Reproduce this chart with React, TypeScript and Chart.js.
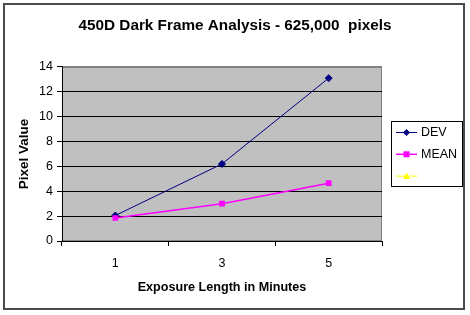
import React, { useEffect, useRef } from 'react';
import { Chart, registerables } from 'chart.js';

Chart.register(...registerables);

const chartTitle = '450D Dark Frame Analysis - 625,000  pixels';
const xTitle = 'Exposure Length in Minutes';
const yTitle = 'Pixel Value';
const categories = ['1', '3', '5'];
const devValues = [2.05, 6.2, 13.1];
const meanValues = [1.85, 3.0, 4.65];
const blankValues: number[] = [];
const seriesNames = ['DEV', 'MEAN', ''];
const seriesColors = ['#000080', '#FF00FF', '#FFFF00'];
const yMin = 0;
const yMax = 14;
const yStep = 2;

const FONT = '"Liberation Sans", Arial, sans-serif';

const framePlugin = {
  id: 'frame',
  beforeDraw(chart: any) {
    const ctx = chart.ctx;
    const { left, top, right, bottom } = chart.chartArea;
    ctx.save();
    ctx.fillStyle = '#ffffff';
    ctx.fillRect(0, 0, chart.width, chart.height);
    ctx.fillStyle = '#C0C0C0';
    ctx.fillRect(left, top, right - left, bottom - top);
    ctx.strokeStyle = '#808080';
    ctx.lineWidth = 1;
    ctx.strokeRect(left + 0.5, top + 0.5, right - left - 1, bottom - top - 1);
    ctx.strokeStyle = '#4a4a4a';
    ctx.lineWidth = 2;
    ctx.strokeRect(4, 4, 460, 305);
    ctx.restore();
  },
};

function drawMarker(ctx: CanvasRenderingContext2D, style: string, x: number, y: number, r: number) {
  ctx.beginPath();
  if (style === 'rectRot') {
    ctx.moveTo(x, y - r);
    ctx.lineTo(x + r, y);
    ctx.lineTo(x, y + r);
    ctx.lineTo(x - r, y);
    ctx.closePath();
  } else if (style === 'rect') {
    ctx.rect(x - r, y - r, 2 * r, 2 * r);
  } else {
    ctx.moveTo(x, y - r);
    ctx.lineTo(x + r, y + r * 0.8);
    ctx.lineTo(x - r, y + r * 0.8);
    ctx.closePath();
  }
  ctx.fill();
}

const legendPlugin = {
  id: 'boxLegend',
  afterDraw(chart: any) {
    const ctx = chart.ctx;
    const bx = 391, by = 121, bw = 71, bh = 65;
    ctx.save();
    ctx.fillStyle = '#ffffff';
    ctx.fillRect(bx, by, bw, bh);
    ctx.strokeStyle = '#000000';
    ctx.lineWidth = 1;
    ctx.strokeRect(bx + 0.5, by + 0.5, bw, bh);
    chart.data.datasets.forEach((ds: any, i: number) => {
      const y = 132.5 + i * 21.8;
      ctx.strokeStyle = ds.borderColor;
      ctx.fillStyle = ds.backgroundColor;
      ctx.lineWidth = ds.borderWidth;
      ctx.beginPath();
      ctx.moveTo(396, y);
      ctx.lineTo(417, y);
      ctx.stroke();
      drawMarker(ctx, ds.pointStyle, 406.5, y, ds.pointRadius);
      ctx.fillStyle = '#000000';
      ctx.font = `12.5px ${FONT}`;
      ctx.textBaseline = 'middle';
      ctx.textAlign = 'left';
      ctx.fillText(ds.label, 421, y + 0.5);
    });
    ctx.restore();
  },
};

export default function App() {
  const canvasRef = useRef<HTMLCanvasElement | null>(null);

  useEffect(() => {
    if (!canvasRef.current) return;
    const chart = new Chart(canvasRef.current, {
      type: 'line',
      data: {
        labels: categories,
        datasets: [
          {
            label: seriesNames[0],
            data: devValues,
            borderColor: seriesColors[0],
            backgroundColor: seriesColors[0],
            borderWidth: 1,
            pointStyle: 'rectRot',
            pointRadius: 3.5,
            pointHoverRadius: 3.5,
            tension: 0,
            order: 1,
          },
          {
            label: seriesNames[1],
            data: meanValues,
            borderColor: seriesColors[1],
            backgroundColor: seriesColors[1],
            borderWidth: 1.5,
            pointStyle: 'rect',
            pointRadius: 3,
            pointHoverRadius: 3,
            tension: 0,
            order: 0,
          },
          {
            label: seriesNames[2],
            data: blankValues,
            borderColor: seriesColors[2],
            backgroundColor: seriesColors[2],
            borderWidth: 1,
            pointStyle: 'triangle',
            pointRadius: 3.5,
            tension: 0,
            order: 2,
          },
        ],
      } as any,
      options: {
        animation: false,
        responsive: false,
        devicePixelRatio: 1,
        layout: { padding: { left: 0, right: 0, top: 0, bottom: 0 } },
        plugins: {
          legend: { display: false },
          tooltip: { enabled: false },
          title: {
            display: true,
            text: chartTitle,
            color: '#000000',
            font: { family: FONT, size: 15.3, weight: 'bold', lineHeight: 1.2 },
            padding: { top: 16.3, bottom: 32.3 },
          },
        },
        scales: {
          x: {
            type: 'category',
            offset: true,
            grid: {
              offset: true,
              drawOnChartArea: false,
              drawTicks: true,
              tickLength: 5,
              color: '#000000',
            },
            border: { color: '#000000', width: 1 },
            ticks: {
              color: '#000000',
              font: { family: FONT, size: 12.5 },
              padding: 10,
              maxRotation: 0,
            },
            title: {
              display: true,
              text: xTitle,
              color: '#000000',
              font: { family: FONT, size: 12.6, weight: 'bold', lineHeight: 1.2 },
              padding: { top: 0, bottom: 19.5 },
            },
            afterFit: (scale: any) => {
              scale.height = 74;
            },
          },
          y: {
            min: yMin,
            max: yMax,
            position: 'left',
            grid: {
              color: (c: any) => (c.tick && c.tick.value === yMax ? '#808080' : '#000000'),
              tickColor: '#000000',
              tickLength: 5,
              lineWidth: 1,
            },
            border: { color: '#000000', width: 1 },
            ticks: {
              stepSize: yStep,
              color: '#000000',
              font: { family: FONT, size: 12.5 },
              padding: 4,
            },
            title: {
              display: true,
              text: yTitle,
              color: '#000000',
              font: { family: FONT, size: 13.5, weight: 'bold', lineHeight: 1.2 },
              padding: { top: 16, bottom: 0 },
            },
            afterFit: (scale: any) => {
              scale.width = 62;
            },
          },
          spacer: {
            position: 'right',
            display: true,
            grid: { display: false, drawTicks: false },
            border: { display: false },
            ticks: { display: false },
            afterFit: (scale: any) => {
              scale.width = 88;
            },
          },
        },
      } as any,
      plugins: [framePlugin, legendPlugin],
    });
    return () => chart.destroy();
  }, []);

  return (
    <div style={{ position: 'absolute', left: 0, top: 0, width: 470, height: 315 }}>
      <canvas ref={canvasRef} width={470} height={315} />
    </div>
  );
}
